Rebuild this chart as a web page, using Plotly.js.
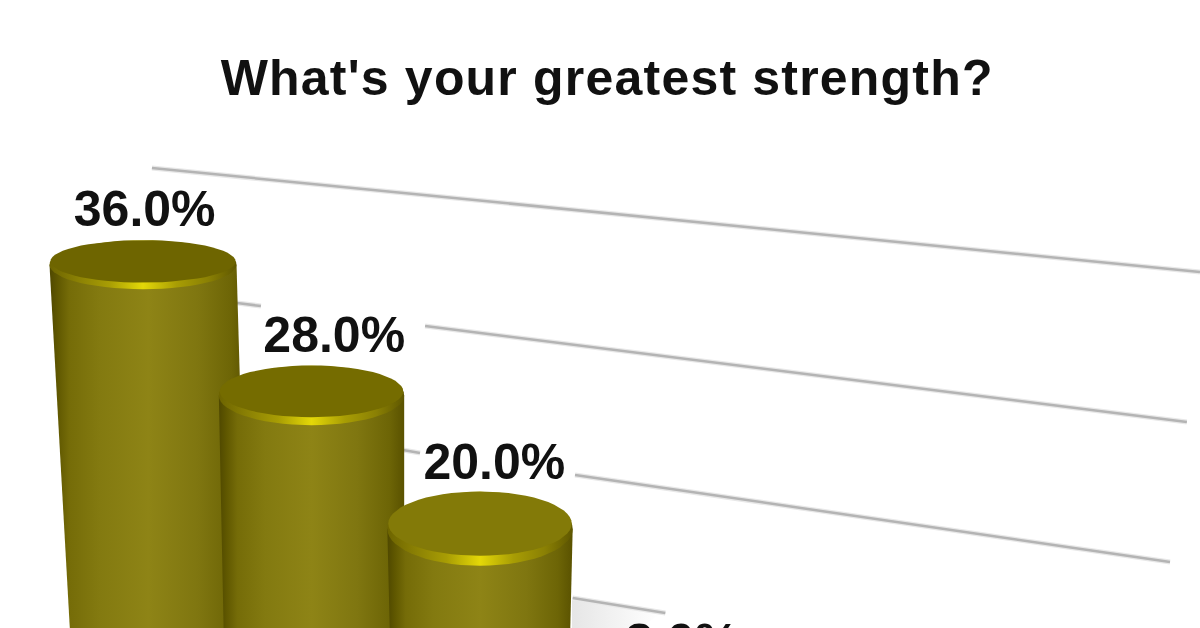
<!DOCTYPE html>
<html><head><meta charset="utf-8">
<script src="https://cdn.plot.ly/plotly-3.0.1.min.js"></script>
<style>html,body{margin:0;padding:0;background:#fff;overflow:hidden}
#frame{width:1200px;height:628px;overflow:hidden}
.gtitle{letter-spacing:1.2px}</style>
</head><body><div id="frame"><div id="chart" style="width:1200px;height:700px"></div></div>
<script>
const chartTitle = "What's your greatest strength?";
const categoryPositions = [0, 1, 2, 3];
const values = [36, 28, 20, 8];
const valueLabels = ["36.0%", "28.0%", "20.0%", "8.0%"];
const floorDrop = [0, 1.9, 4.0, 6.3];
const capHalfWidth = [0.555, 0.55, 0.55, 0.55];
const capHalfDepth = [1.85, 2.25, 2.8, 3.0];
const footLeft = [0.43, 0.52, 0.534, 0.5];
const footRight = [0.62, 0.55, 0.534, 0.5];
const labelOffsetX = [0.01, 0.135, 0.085, 0.2];
const labelOffsetY = [3.85, 4.25, 4.7, 5.4];
const gridStartX = [0.053, 0.558, 1.674, 1.543, 2.564, 2.55];
const gridEndX = [6.273, 0.70, 6.195, 1.644, 6.095, 3.1];
const gridStartY = [43.33, 33.1, 31.36, 21.97, 20.08, 10.76];
const gridEndY = [35.45, 32.88, 24.09, 21.74, 13.48, 9.62];
const shadeX = [2.546, 3.068, 2.95, 2.546];
const shadeY = [10.6, 9.55, 8.48, 8.48];

const colorBodyMid = '#8e8416', colorRim = '#e4d808';
const bodyScale = [[0, '#4f4800'], [0.04, '#5f5700'], [0.1, '#756c08'], [0.25, '#837a10'], [0.5, colorBodyMid],
                   [0.75, '#7f7610'], [0.92, '#6d6506'], [1, '#5a5200']];
const rimScale = [[0, '#6d6400'], [0.15, '#8a8004'], [0.32, '#a89d04'], [0.5, colorRim],
                  [0.68, '#a89d04'], [0.85, '#8a8004'], [1, '#5f5700']];
const faceColors = ['#6e6500', '#756c00', '#837a08', '#837a08'];
const shadeScale = [[0, '#e6e6e6'], [1, '#ffffff']];

function ellipse(cx, cy, rx, ry) {
  const xs = [], ys = [];
  for (let d = 0; d <= 360; d += 6) {
    xs.push(cx + rx * Math.cos(d * Math.PI / 180));
    ys.push(cy + ry * Math.sin(d * Math.PI / 180));
  }
  return {x: xs, y: ys};
}

const traces = [];
// Plain bars carry the values; the shaded cylinders are drawn over them from the same values.
traces.push({type: 'bar', x: categoryPositions, y: values.map((v, i) => v - floorDrop[i]),
  width: 0.5, marker: {color: colorBodyMid, line: {width: 0}}, hoverinfo: 'skip'});

traces.push({type: 'scatter', mode: 'lines', line: {width: 0}, x: shadeX, y: shadeY,
  fill: 'toself', fillgradient: {type: 'horizontal', colorscale: shadeScale}, hoverinfo: 'skip'});

gridStartX.forEach((x0, i) => {
  traces.push({type: 'scatter', mode: 'lines', x: [x0, gridEndX[i]], y: [gridStartY[i], gridEndY[i]],
    line: {color: '#e8e8e8', width: 5}, hoverinfo: 'skip'});
  traces.push({type: 'scatter', mode: 'lines', x: [x0, gridEndX[i]], y: [gridStartY[i], gridEndY[i]],
    line: {color: '#b4b4b4', width: 2.5}, hoverinfo: 'skip'});
});

const foot = 7.48;
values.forEach((v, i) => {
  const c = categoryPositions[i], top = v - floorDrop[i];
  const rx = capHalfWidth[i], ry = capHalfDepth[i];
  if (top > foot) {
    traces.push({type: 'scatter', mode: 'lines', line: {width: 0},
      x: [c - rx, c + rx, c + footRight[i], c - footLeft[i], c - rx],
      y: [top, top, foot, foot, top],
      fill: 'toself', fillgradient: {type: 'horizontal', colorscale: bodyScale}, hoverinfo: 'skip'});
    const rim = ellipse(c, top, rx, ry);
    traces.push({type: 'scatter', mode: 'lines', line: {width: 0}, x: rim.x, y: rim.y,
      fill: 'toself', fillgradient: {type: 'horizontal', colorscale: rimScale}, hoverinfo: 'skip'});
    const face = ellipse(c, top + ry * 0.14, rx * 0.99, ry * 0.87);
    traces.push({type: 'scatter', mode: 'lines', line: {width: 0}, x: face.x, y: face.y,
      fill: 'toself', fillcolor: faceColors[i], hoverinfo: 'skip'});
  }
});

traces.push({type: 'scatter', mode: 'text',
  x: categoryPositions.map((c, i) => c + labelOffsetX[i]),
  y: values.map((v, i) => v - floorDrop[i] + labelOffsetY[i]),
  text: valueLabels, textposition: 'middle center',
  textfont: {family: 'Liberation Sans, Arial, sans-serif', size: 50, color: '#111'}, hoverinfo: 'skip',
  texttemplate: '<b>%{text}</b>'});

const layout = {
  width: 1200, height: 700, margin: {l: 0, r: 0, t: 0, b: 0}, showlegend: false,
  paper_bgcolor: '#fff', plot_bgcolor: 'rgba(0,0,0,0)', barmode: 'overlay',
  title: {text: '<b>' + chartTitle + '</b>', x: 0.506, xanchor: 'center', y: 0.89, yanchor: 'middle',
    font: {family: 'Liberation Sans, Arial, sans-serif', size: 50, color: '#111'}},
  xaxis: {visible: false, range: [-0.8487, 6.273], fixedrange: true},
  yaxis: {visible: false, range: [3.03, 56.06], fixedrange: true}
};
Plotly.newPlot('chart', traces, layout, {displayModeBar: false, staticPlot: true});
</script></body></html>
